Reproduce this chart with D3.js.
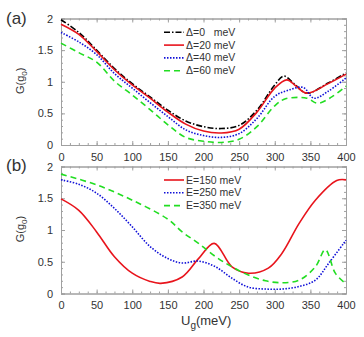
<!DOCTYPE html>
<html>
<head>
<meta charset="utf-8">
<script src="https://cdn.jsdelivr.net/npm/d3@7"></script>
<style>
  body { margin: 0; background: #fff; }
  svg text { font-family: "Liberation Sans", Arial, sans-serif; fill: #333; }
</style>
</head>
<body>
<div id="chart"></div>
<script>
// panel (a): G vs Ug for several gaps
var xTicks = [0, 50, 100, 150, 200, 250, 300, 350, 400];
var yTicks = [0, 0.5, 1, 1.5, 2];

var gapLabels = ["\u0394=0   meV", "\u0394=20 meV", "\u0394=40 meV", "\u0394=60 meV"];
var gap0 = [[0,1.98],[25,1.78],[50,1.50],[75,1.21],[100,0.97],[125,0.76],[150,0.55],[175,0.38],[200,0.29],[225,0.26],[250,0.31],[275,0.55],[300,0.95],[313,1.09],[327,0.97],[345,0.82],[375,0.98],[400,1.14]];
var gap20 = [[0,1.91],[25,1.75],[50,1.48],[75,1.19],[100,0.95],[125,0.74],[150,0.52],[175,0.33],[200,0.22],[225,0.19],[250,0.25],[275,0.52],[300,0.90],[317,1.03],[330,0.93],[345,0.82],[375,0.97],[400,1.12]];
var gap40 = [[0,1.78],[25,1.63],[50,1.43],[75,1.13],[100,0.90],[125,0.67],[150,0.45],[175,0.24],[200,0.15],[225,0.12],[250,0.18],[275,0.42],[300,0.77],[320,0.87],[340,0.91],[355,0.74],[375,0.85],[400,1.06]];
var gap60 = [[0,1.61],[25,1.46],[50,1.31],[75,1.01],[100,0.79],[125,0.56],[150,0.32],[175,0.12],[200,0.06],[225,0.04],[250,0.09],[275,0.29],[300,0.62],[315,0.73],[345,0.74],[360,0.66],[380,0.76],[400,0.93]];

// panel (b): G vs Ug for several energies
var energyLabels = ["E=150 meV", "E=250 meV", "E=350 meV"];
var e150 = [[0,1.49],[25,1.31],[50,0.97],[75,0.58],[100,0.32],[125,0.19],[140,0.16],[170,0.26],[193,0.55],[215,0.79],[240,0.42],[263,0.32],[291,0.40],[310,0.63],[334,1.10],[357,1.47],[387,1.78],[400,1.79]];
var e250 = [[0,1.79],[25,1.72],[50,1.58],[75,1.34],[100,1.05],[125,0.74],[150,0.55],[170,0.48],[193,0.51],[217,0.42],[240,0.24],[263,0.10],[287,0.07],[310,0.07],[334,0.11],[357,0.21],[376,0.48],[400,0.84]];
var e350 = [[0,1.88],[50,1.71],[100,1.47],[150,1.17],[170,0.97],[193,0.79],[217,0.58],[240,0.42],[263,0.29],[287,0.20],[310,0.17],[334,0.21],[357,0.42],[371,0.69],[385,0.32],[399,0.16]];

var W = 364, H = 337;
var left = 61, right = 346;

var svg = d3.select("#chart").append("svg")
    .attr("width", W).attr("height", H);

var x = d3.scaleLinear().domain([0, 400]).range([left, right]);

var styles = {
    black: {stroke: "#000", dash: "6,2,1.5,2"},
    red:   {stroke: "#e8141c", dash: null},
    blue:  {stroke: "#1010d8", dash: "1.5,1.5"},
    green: {stroke: "#22dd22", dash: "6,4"}
};

function drawPanel(top, bottom, series, legend, legendTop, tag) {
    var y = d3.scaleLinear().domain([0, 2]).range([bottom, top]);
    var g = svg.append("g");

    // minor ticks
    var xMinor = d3.range(0, 401, 12.5);
    var yMinor = d3.range(0, 2.001, 0.1);
    g.append("g").attr("transform", "translate(0," + bottom + ")")
        .call(d3.axisBottom(x).tickValues(xMinor).tickSize(-2).tickFormat(""));
    g.append("g").attr("transform", "translate(0," + top + ")")
        .call(d3.axisTop(x).tickValues(xMinor).tickSize(-2).tickFormat(""));
    g.append("g").attr("transform", "translate(" + left + ",0)")
        .call(d3.axisLeft(y).tickValues(yMinor).tickSize(-2).tickFormat(""));
    g.append("g").attr("transform", "translate(" + right + ",0)")
        .call(d3.axisRight(y).tickValues(yMinor).tickSize(-2).tickFormat(""));

    // major ticks with labels
    g.append("g").attr("transform", "translate(0," + bottom + ")")
        .call(d3.axisBottom(x).tickValues(xTicks).tickSize(-4).tickPadding(8).tickFormat(d3.format("d")));
    g.append("g").attr("transform", "translate(0," + top + ")")
        .call(d3.axisTop(x).tickValues(xTicks).tickSize(-4).tickFormat(""));
    g.append("g").attr("transform", "translate(" + left + ",0)")
        .call(d3.axisLeft(y).tickValues(yTicks).tickSize(-4).tickPadding(8).tickFormat(d3.format("~g")));
    g.append("g").attr("transform", "translate(" + right + ",0)")
        .call(d3.axisRight(y).tickValues(yTicks).tickSize(-4).tickFormat(""));

    g.selectAll(".domain, .tick line").attr("stroke", "#a0a0a0");
    g.selectAll(".tick text").attr("font-size", 11).attr("fill", "#333");

    var line = d3.line()
        .x(function(d) { return x(d[0]); })
        .y(function(d) { return y(d[1]); })
        .curve(d3.curveCatmullRom.alpha(0.5));

    series.forEach(function(s) {
        g.append("path").datum(s.data)
            .attr("fill", "none")
            .attr("stroke", styles[s.style].stroke)
            .attr("stroke-width", 1.6)
            .attr("stroke-dasharray", styles[s.style].dash)
            .attr("d", line);
    });

    // legend
    series.forEach(function(s, i) {
        var ly = legendTop + i * legend.step;
        g.append("line")
            .attr("x1", 164).attr("x2", 184)
            .attr("y1", ly).attr("y2", ly)
            .attr("stroke", styles[s.style].stroke)
            .attr("stroke-width", 1.6)
            .attr("stroke-dasharray", styles[s.style].dash);
        g.append("text")
            .attr("x", 186).attr("y", ly + 3.5)
            .attr("font-size", 10.5)
            .attr("xml:space", "preserve")
            .text(s.label);
    });

    // axis title
    var cy = (top + bottom) / 2 - 1;
    var t = g.append("text")
        .attr("transform", "translate(24," + cy + ") rotate(-90)")
        .attr("text-anchor", "middle")
        .attr("font-size", 11);
    t.append("tspan").text("G(g");
    t.append("tspan").attr("font-size", 8).attr("dy", 3).text("0");
    t.append("tspan").attr("dy", -3).text(")");

    g.append("text").attr("x", 6).attr("y", tag.y)
        .attr("font-size", 17).text(tag.text);
}

drawPanel(18.5, 145, [
    {data: gap0, style: "black", label: gapLabels[0]},
    {data: gap20, style: "red", label: gapLabels[1]},
    {data: gap40, style: "blue", label: gapLabels[2]},
    {data: gap60, style: "green", label: gapLabels[3]}
], {step: 12.8}, 32.3, {text: "(a)", y: 24});

drawPanel(166.5, 293.5, [
    {data: e150, style: "red", label: energyLabels[0]},
    {data: e250, style: "blue", label: energyLabels[1]},
    {data: e350, style: "green", label: energyLabels[2]}
], {step: 12.8}, 180, {text: "(b)", y: 171});

// x axis title
var xt = svg.append("text")
    .attr("x", 181).attr("y", 325)
    .attr("font-size", 13);
xt.append("tspan").text("U");
xt.append("tspan").attr("font-size", 10).attr("dy", 4).text("g");
xt.append("tspan").attr("dy", -4).text("(meV)");
</script>
</body>
</html>
